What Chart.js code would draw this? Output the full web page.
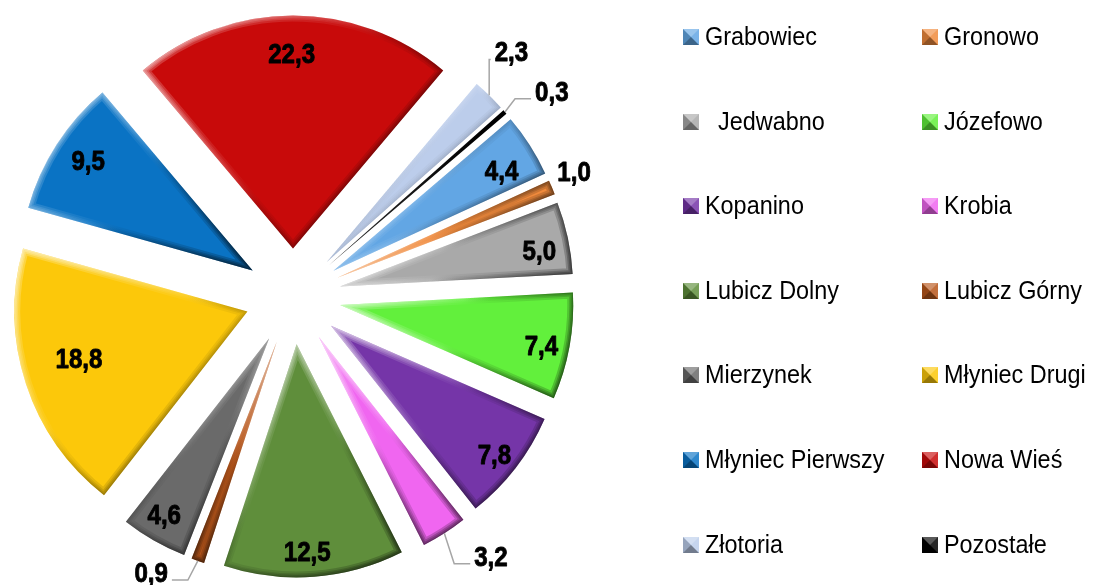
<!DOCTYPE html>
<html lang="pl">
<head>
<meta charset="utf-8">
<title>Udział sołectw</title>
<script src="https://cdn.jsdelivr.net/npm/chart.js@4.4.1/dist/chart.umd.min.js"></script>
<style>
  html, body { margin: 0; padding: 0; background: #ffffff; }
  #wrap { position: relative; width: 1100px; height: 585px; overflow: hidden; }
  #pie { position: absolute; left: 0; top: 0; width: 1100px; height: 585px; }
  .sw { position: absolute; width: 0; height: 0; border-style: solid; border-width: 8.5px; }
  .lg-text {
    position: absolute; font-family: "Liberation Sans", Arial, sans-serif; font-size: 26px;
    line-height: 26px; color: #000; white-space: pre; transform: scaleX(0.9); transform-origin: 0 0;
  }
</style>
</head>
<body>
<div id="wrap">
  <canvas id="pie" width="1100" height="585"></canvas>
  <div id="legend"></div>
</div>
<script>
// Villages, in drawing order (clockwise)
const categories = [
  'Grabowiec', 'Gronowo', '  Jedwabno', 'Józefowo', 'Kopanino', 'Krobia', 'Lubicz Dolny',
  'Lubicz Górny', 'Mierzynek', 'Młyniec Drugi', 'Młyniec Pierwszy', 'Nowa Wieś', 'Złotoria', 'Pozostałe'
];

// Share of each village, %
const shares = [4.4, 1.0, 5.0, 7.4, 7.8, 3.2, 12.5, 0.9, 4.6, 18.8, 9.5, 22.3, 2.3, 0.3];

// Slice fills
const sliceColors = [
  '#62a6e4', '#f08a3c', '#a9a9a9', '#62f03c', '#7535a8', '#f066f0', '#5f8e3b',
  '#b8561a', '#6a6a6a', '#fcc80a', '#0a73c4', '#c80a0a', '#bccdeb', '#000000'
];

// Value label placement per slice: [radius as fraction of slice radius, angular nudge in degrees, leader line]
const labelPlacement = [
  [0.84, 1.8, false], [1.115, -1.4, false], [0.87, 1.7, false], [0.88, 0.9, false],
  [0.89, 0.4, false], [1.195, -5.6, true], [0.89, 1.4, false], [1.126, 8.8, true],
  [0.88, 1.1, false], [0.75, 2.7, false], [0.85, 1.1, false], [0.84, -0.4, false],
  [1.203, -3.0, true], [1.213, 3.0, true]
];

const EXPLODE = 48;          // distance every slice is pulled out from the centre, px
const LABEL_FONT = 'bold 28px "Liberation Sans", Arial, sans-serif';
const LABEL_SQUEEZE = 0.86;  // narrow bold numerals

function formatShare(v) { return v.toFixed(1).replace('.', ','); }

function shade(hex, amount) {
  const n = parseInt(hex.slice(1), 16);
  let r = (n >> 16) & 255, g = (n >> 8) & 255, b = n & 255;
  const t = amount < 0 ? 0 : 255, p = Math.abs(amount);
  r = Math.round(r + (t - r) * p); g = Math.round(g + (t - g) * p); b = Math.round(b + (t - b) * p);
  return 'rgb(' + r + ',' + g + ',' + b + ')';
}

// Pull every slice outwards along its bisector
const explodePlugin = {
  id: 'explode',
  afterDatasetsUpdate(chart) {
    chart.getDatasetMeta(0).data.forEach((arc) => {
      const mid = (arc.startAngle + arc.endAngle) / 2;
      arc.x += Math.cos(mid) * EXPLODE;
      arc.y += Math.sin(mid) * EXPLODE;
    });
  }
};

// Soft bevel along the slice edges: light from the upper left, dark towards the lower right
const bevelPlugin = {
  id: 'bevel',
  afterDatasetsDraw(chart) {
    const ctx = chart.ctx;
    chart.getDatasetMeta(0).data.forEach((arc) => {
      const { x, y, startAngle, endAngle, outerRadius } = arc;
      if (endAngle - startAngle <= 0) return;
      let minX = x, maxX = x, minY = y, maxY = y;
      for (let k = 0; k <= 24; k++) {
        const a = startAngle + (endAngle - startAngle) * k / 24;
        const px = x + Math.cos(a) * outerRadius, py = y + Math.sin(a) * outerRadius;
        minX = Math.min(minX, px); maxX = Math.max(maxX, px);
        minY = Math.min(minY, py); maxY = Math.max(maxY, py);
      }
      ctx.save();
      ctx.beginPath();
      ctx.moveTo(x, y);
      ctx.arc(x, y, outerRadius, startAngle, endAngle);
      ctx.closePath();
      ctx.clip();
      const g = ctx.createLinearGradient(minX, minY, maxX, maxY);
      g.addColorStop(0, 'rgba(255,255,255,0.7)');
      g.addColorStop(0.45, 'rgba(255,255,255,0.12)');
      g.addColorStop(0.55, 'rgba(0,0,0,0.12)');
      g.addColorStop(1, 'rgba(0,0,0,0.7)');
      ctx.strokeStyle = g;
      ctx.lineJoin = 'round';
      ctx.globalAlpha = 0.35;
      [12, 8, 5, 2].forEach((w) => { ctx.lineWidth = w; ctx.stroke(); });
      ctx.restore();
    });
  }
};

// Value labels, with leader lines for the narrow slices
const valueLabelPlugin = {
  id: 'valueLabels',
  afterDatasetsDraw(chart) {
    const ctx = chart.ctx;
    const values = chart.data.datasets[0].data;
    chart.getDatasetMeta(0).data.forEach((arc, i) => {
      const { x, y, startAngle, endAngle, outerRadius } = arc;
      const mid = (startAngle + endAngle) / 2;
      const [rf, nudge, leader] = labelPlacement[i];
      const a = mid + nudge * Math.PI / 180;
      const px = x + Math.cos(a) * rf * outerRadius;
      const py = y + Math.sin(a) * rf * outerRadius;
      const text = formatShare(values[i]);
      ctx.save();
      ctx.font = LABEL_FONT;
      const w = ctx.measureText(text).width * LABEL_SQUEEZE;
      if (leader) {
        const ex = x + Math.cos(mid) * outerRadius, ey = y + Math.sin(mid) * outerRadius;
        const right = px > ex;
        const endX = right ? px - w / 2 - 4 : px + w / 2 + 4;
        const endY = py + 8;
        const elbowX = right ? Math.max(ex, endX - 16) : Math.min(ex, endX + 16);
        ctx.strokeStyle = '#a6a6a6';
        ctx.lineWidth = 1.5;
        ctx.beginPath();
        ctx.moveTo(ex, ey);
        ctx.lineTo(elbowX, endY);
        ctx.lineTo(endX, endY);
        ctx.stroke();
      }
      ctx.translate(px, py + 10);
      ctx.scale(LABEL_SQUEEZE, 1);
      ctx.fillStyle = '#000000';
      ctx.strokeStyle = '#000000';
      ctx.lineWidth = 0.9;
      ctx.lineJoin = 'round';
      ctx.textAlign = 'center';
      ctx.textBaseline = 'alphabetic';
      ctx.fillText(text, 0, 0);
      ctx.strokeText(text, 0, 0);
      ctx.restore();
    });
  }
};

new Chart(document.getElementById('pie'), {
  type: 'pie',
  data: {
    labels: categories,
    datasets: [{
      data: shares,
      backgroundColor: sliceColors,
      borderWidth: 0
    }]
  },
  options: {
    responsive: false,
    animation: false,
    events: [],
    rotation: 49.5,
    radius: 233,
    layout: { padding: { left: 0, right: 514, top: 8, bottom: 0 } },
    plugins: {
      legend: { display: false },
      tooltip: { enabled: false }
    }
  },
  plugins: [explodePlugin, bevelPlugin, valueLabelPlugin]
});

// Two-column legend, filled row by row
(function buildLegend() {
  const host = document.getElementById('legend');
  const colX = [683, 922];
  const firstRow = 37.5, rowStep = 84.6;
  categories.forEach((name, i) => {
    const col = i % 2, row = Math.floor(i / 2);
    const cy = firstRow + row * rowStep;
    const base = sliceColors[i];
    const sw = document.createElement('div');
    sw.className = 'sw';
    sw.style.left = colX[col] + 'px';
    sw.style.top = (cy - 8.5) + 'px';
    sw.style.borderTopColor = shade(base, 0.35);
    sw.style.borderRightColor = shade(base, 0.15);
    sw.style.borderLeftColor = shade(base, -0.2);
    sw.style.borderBottomColor = shade(base, -0.4);
    host.appendChild(sw);
    const t = document.createElement('div');
    t.className = 'lg-text';
    t.textContent = name;
    t.style.left = (colX[col] + 22) + 'px';
    t.style.top = (cy + 7.5 - 22) + 'px';
    host.appendChild(t);
  });
})();
</script>
</body>
</html>
